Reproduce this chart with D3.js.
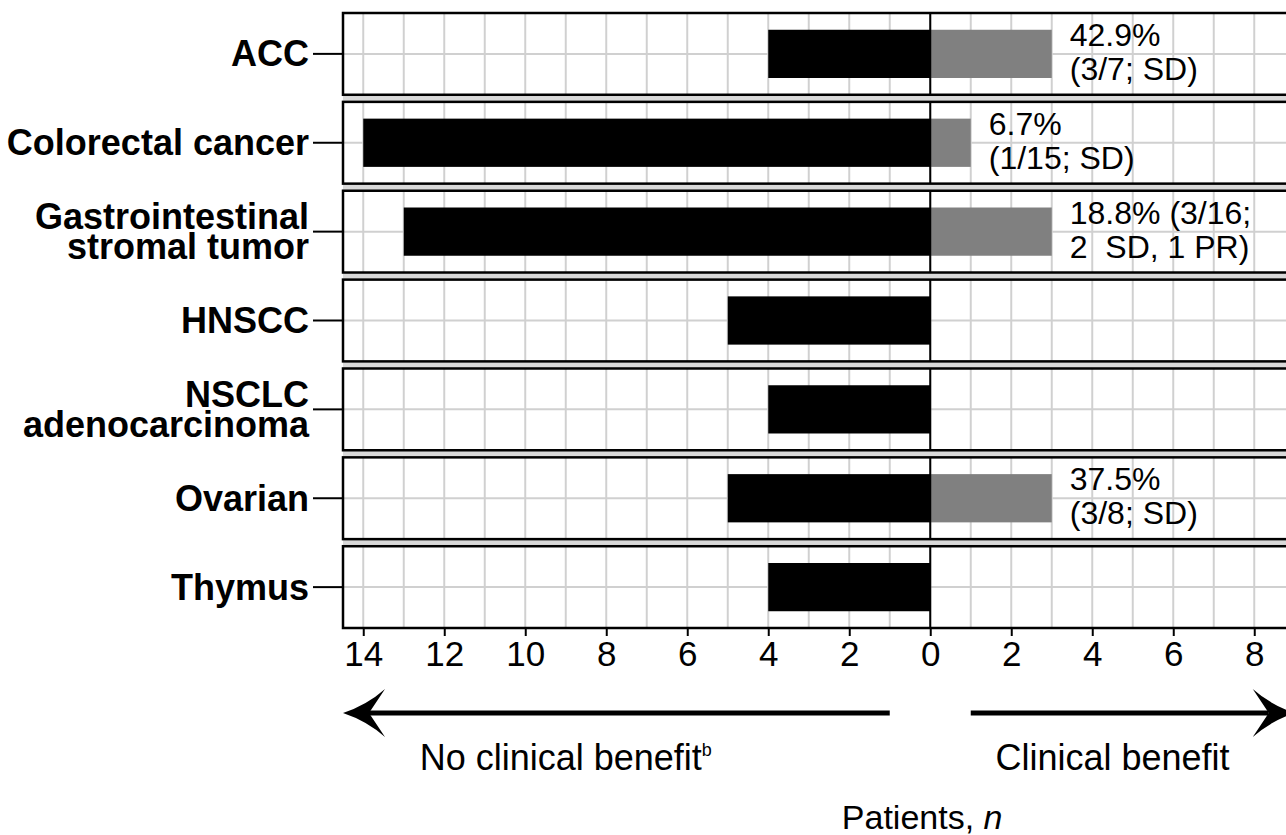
<!DOCTYPE html>
<html>
<head>
<meta charset="utf-8">
<script src="https://cdn.jsdelivr.net/npm/d3@7"></script>
<style>
  body { margin: 0; background: #fff; }
  svg { display: block; font-family: "Liberation Sans", Arial, sans-serif; }
</style>
</head>
<body>
<svg id="chart"></svg>
<script>
const categories = ["ACC", "Colorectal cancer", "Gastrointestinal\nstromal tumor", "HNSCC", "NSCLC\nadenocarcinoma", "Ovarian", "Thymus"]
const noBenefit = [4, 14, 13, 5, 4, 5, 4]
const benefit = [3, 1, 3, 0, 0, 3, 0]
const benefitLabels = [
  ["42.9%", "(3/7; SD)"],
  ["6.7%", "(1/15; SD)"],
  ["18.8% (3/16;", "2  SD, 1 PR)"],
  null,
  null,
  ["37.5%", "(3/8; SD)"],
  null
]
const xTicks = [-14, -12, -10, -8, -6, -4, -2, 0, 2, 4, 6, 8]

const w = 1286
const h = 835

const svg = d3.select('#chart')
  .attr('width', w)
  .attr('height', h)

// scales
const x = d3.scaleLinear()
  .domain([-14.5, 9.5])
  .range([343, 343 + 24 * 40.5])

const y = d3.scaleBand()
  .domain(categories)
  .range([13, 628])
  .paddingInner(0.08)

const bw = y.bandwidth()
const barH = bw * 0.59

// gaps between panels
svg.append('rect')
  .attr('x', x(-14.5))
  .attr('y', y.range()[0])
  .attr('width', w)
  .attr('height', y.range()[1] - y.range()[0])
  .attr('fill', '#d9d9d9')

const panels = svg.selectAll('g.panel')
  .data(categories)
  .join('g')
  .attr('class', 'panel')
  .attr('transform', d => `translate(0, ${y(d)})`)

panels.append('rect')
  .attr('x', x(-14.5))
  .attr('y', 0)
  .attr('width', w)
  .attr('height', bw)
  .attr('fill', '#fff')

// grid lines every unit
const gridVals = d3.range(-14, 10)
panels.selectAll('line.vgrid')
  .data(gridVals)
  .join('line')
  .attr('x1', d => x(d))
  .attr('x2', d => x(d))
  .attr('y1', 0)
  .attr('y2', bw)
  .attr('stroke', '#d0d0d0')
  .attr('stroke-width', 2)

panels.append('line')
  .attr('x1', x(-14.5))
  .attr('x2', w)
  .attr('y1', bw / 2)
  .attr('y2', bw / 2)
  .attr('stroke', '#d0d0d0')
  .attr('stroke-width', 2)

// bars
panels.append('rect')
  .attr('x', (d, i) => x(-noBenefit[i]))
  .attr('y', (bw - barH) / 2)
  .attr('width', (d, i) => x(0) - x(-noBenefit[i]))
  .attr('height', barH)
  .attr('fill', '#000')

panels.append('rect')
  .attr('x', x(0))
  .attr('y', (bw - barH) / 2)
  .attr('width', (d, i) => x(benefit[i]) - x(0))
  .attr('height', barH)
  .attr('fill', '#808080')

// zero line
panels.append('line')
  .attr('x1', x(0))
  .attr('x2', x(0))
  .attr('y1', 0)
  .attr('y2', bw)
  .attr('stroke', '#000')
  .attr('stroke-width', 2)

// benefit annotations
panels.each(function (d, i) {
  const lab = benefitLabels[i]
  if (!lab) return
  const t = d3.select(this).append('text')
    .attr('font-size', 32)
    .attr('fill', '#000')
  lab.forEach((s, k) => {
    t.append('tspan')
      .attr('x', x(benefit[i]) + 18)
      .attr('y', bw / 2 + (k === 0 ? -19 : 15))
      .attr('dominant-baseline', 'central')
      .attr('xml:space', 'preserve')
      .text(s)
  })
})

// panel border
panels.append('rect')
  .attr('x', x(-14.5))
  .attr('y', 0)
  .attr('width', w)
  .attr('height', bw)
  .attr('fill', 'none')
  .attr('stroke', '#000')
  .attr('stroke-width', 2.5)

// y axis (category labels + ticks)
panels.append('line')
  .attr('x1', x(-14.5) - 30)
  .attr('x2', x(-14.5))
  .attr('y1', bw / 2)
  .attr('y2', bw / 2)
  .attr('stroke', '#000')
  .attr('stroke-width', 2)

panels.append('text')
  .attr('text-anchor', 'end')
  .attr('font-weight', 'bold')
  .attr('font-size', 36)
  .attr('fill', '#000')
  .each(function (d) {
    const lines = d.split('\n')
    const lh = 30
    lines.forEach((s, k) => {
      d3.select(this).append('tspan')
        .attr('x', x(-14.5) - 34)
        .attr('y', bw / 2 + (k - (lines.length - 1) / 2) * lh)
        .attr('dominant-baseline', 'central')
        .text(s)
    })
  })

// x axis
const bottom = y.range()[1]
const xAxis = d3.axisBottom(x)
  .tickValues(xTicks)
  .tickFormat(d => Math.abs(d))
  .tickSize(8)
  .tickPadding(5)

const gx = svg.append('g')
  .attr('transform', `translate(0, ${bottom})`)
  .call(xAxis)
gx.select('.domain').remove()
gx.selectAll('line').attr('stroke-width', 2).attr('stroke', '#000')
gx.selectAll('text')
  .attr('font-size', 35)
  .attr('fill', '#000')
  .attr('font-family', '"Liberation Sans", Arial, sans-serif')

// arrows
const arrowY = 713
function arrow(from, to) {
  const dir = Math.sign(to - from)
  const tip = x(to)
  const back = tip - dir * 42
  const notch = tip - dir * 26
  svg.append('line')
    .attr('x1', x(from))
    .attr('x2', notch)
    .attr('y1', arrowY)
    .attr('y2', arrowY)
    .attr('stroke', '#000')
    .attr('stroke-width', 5)
  svg.append('path')
    .attr('d', `M${tip},${arrowY} Q${tip - dir * 24},${arrowY - 8} ${back},${arrowY - 24} L${notch},${arrowY} L${back},${arrowY + 24} Q${tip - dir * 24},${arrowY + 8} ${tip},${arrowY} Z`)
    .attr('fill', '#000')
}
arrow(-1, -14.5)
arrow(1, 9)

const noLab = svg.append('text')
  .attr('x', x(-9))
  .attr('y', 770)
  .attr('text-anchor', 'middle')
  .attr('font-size', 36)
  .attr('fill', '#000')
noLab.append('tspan').text('No clinical benefit')
noLab.append('tspan')
  .attr('font-size', 18)
  .attr('dy', -14)
  .text('b')

svg.append('text')
  .attr('x', x(4.5))
  .attr('y', 770)
  .attr('text-anchor', 'middle')
  .attr('font-size', 36)
  .attr('fill', '#000')
  .text('Clinical benefit')

const axTitle = svg.append('text')
  .attr('x', x(-0.2))
  .attr('y', 829)
  .attr('text-anchor', 'middle')
  .attr('font-size', 34)
  .attr('fill', '#000')
axTitle.append('tspan').text('Patients, ')
axTitle.append('tspan').attr('font-style', 'italic').text('n')
</script>
</body>
</html>
